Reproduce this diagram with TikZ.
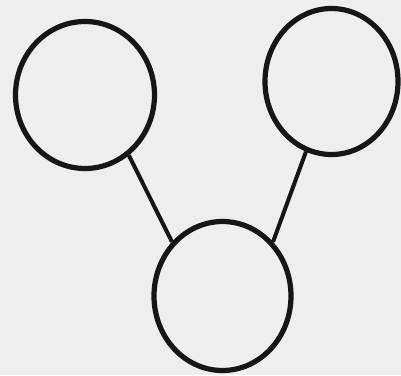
\documentclass[tikz,border=0pt]{standalone}
\usetikzlibrary{shapes.geometric}
\definecolor{paper}{HTML}{EEEEEE}
\definecolor{ink}{HTML}{161616}
\begin{document}
\begin{tikzpicture}[x=1pt,y=-1pt,
  ring/.style={draw=ink,ellipse,line width=5.2pt,inner sep=0pt},
  link/.style={draw=ink,line width=4pt}]
\fill[paper] (0,0) rectangle (401,375);
\useasboundingbox (0,0) rectangle (401,375);
\node[ring,minimum width=139pt,minimum height=147pt] (L) at (85,95) {};
\node[ring,minimum width=133pt,minimum height=146pt] (R) at (331.5,81.5) {};
\node[ring,minimum width=137pt,minimum height=149pt] (B) at (222.5,296) {};
\draw[link] (L.-54) -- (B.133);
\draw[link] (R.-110) -- (B.47);
\end{tikzpicture}
\end{document}
